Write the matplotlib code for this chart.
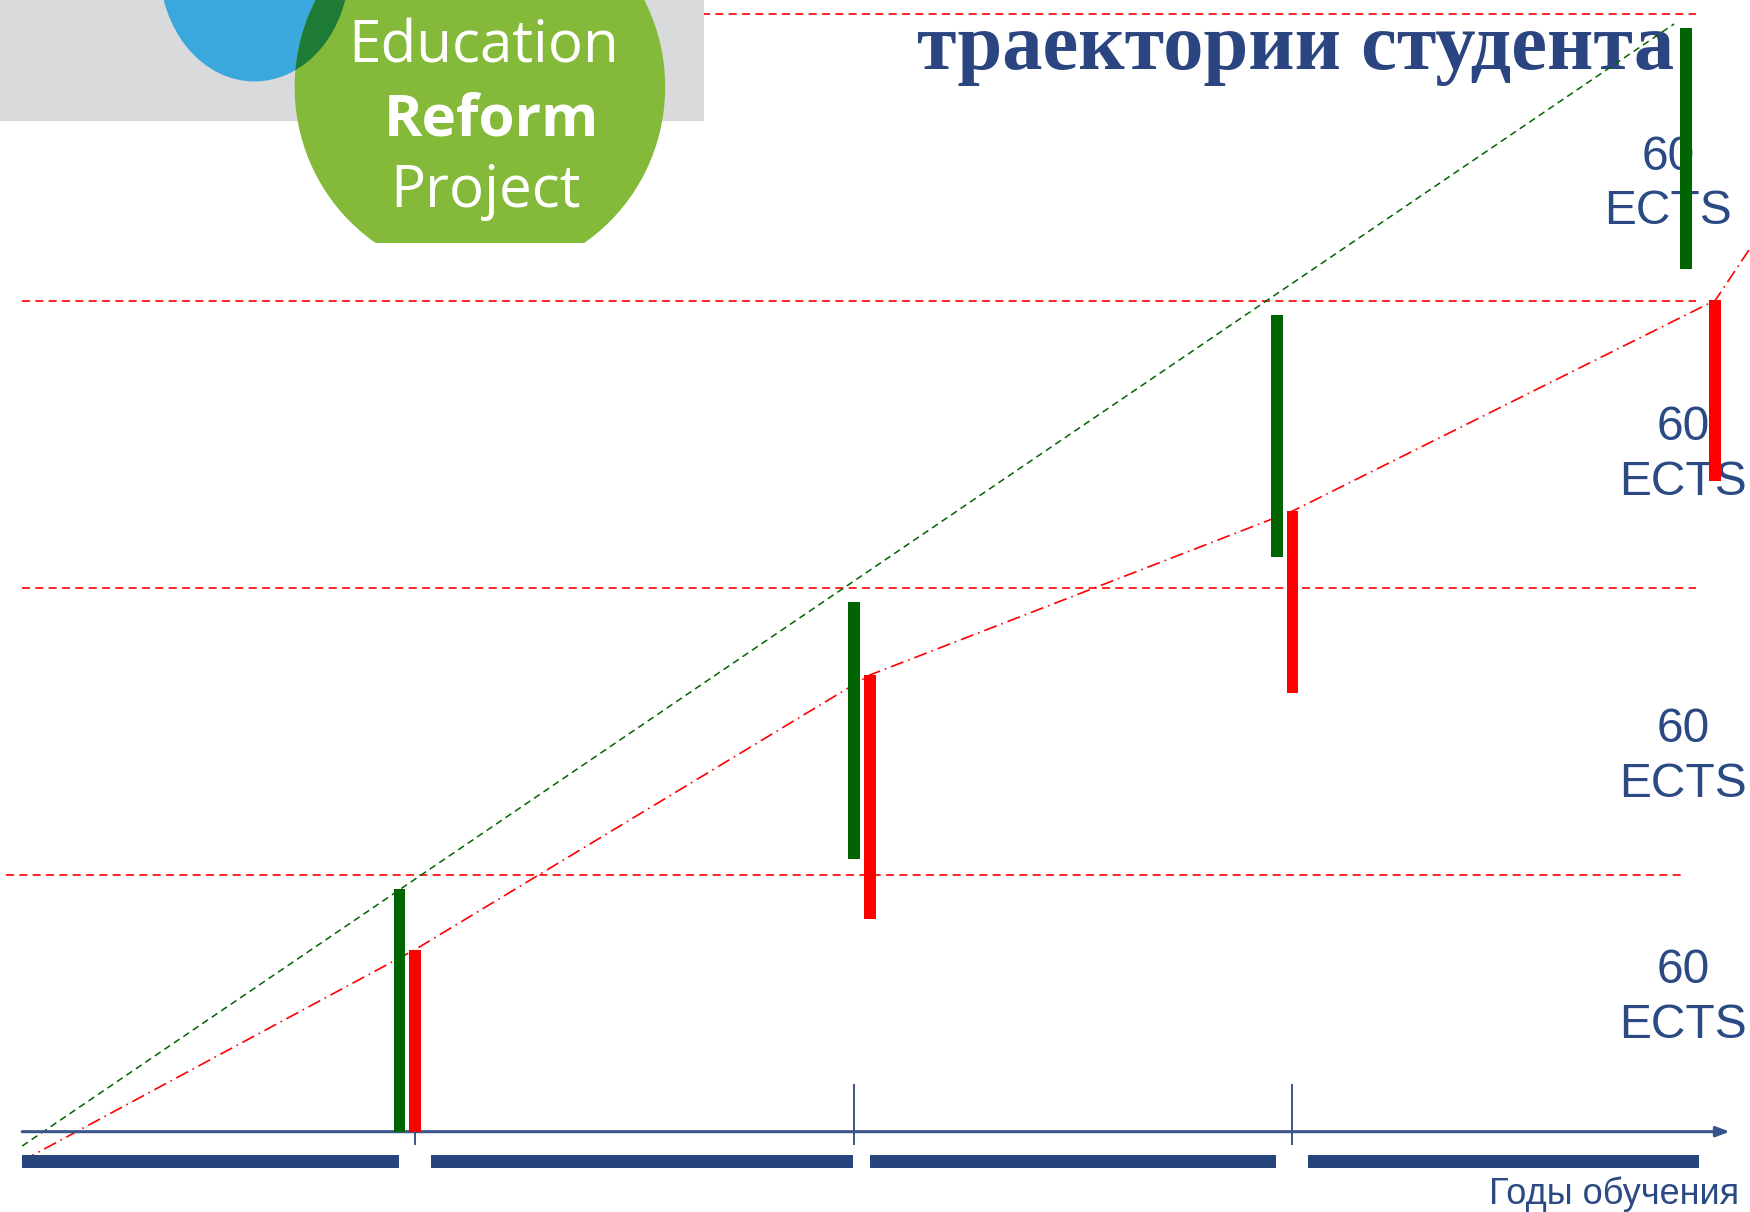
import matplotlib
matplotlib.use("Agg")
import matplotlib.pyplot as plt
from matplotlib.patches import Ellipse, Rectangle

# ---------------- data ----------------
levels = [60, 120, 180, 240]                       # ECTS thresholds per year
level_x0 = [0.066, 0.104, 0.104, 0.104]
level_x1 = [3.89, 3.921, 3.921, 3.921]

green_x = [0.964, 2.0, 2.964, 3.898]               # standard trajectory bars
green_bottom = [6.3, 63.3, 126.5, 186.8]
green_top = [57.0, 117.0, 177.2, 237.2]

red_x = [1.0, 2.036, 3.0, 3.964]                   # individual trajectory bars
red_bottom = [6.3, 50.7, 98.1, 142.4]
red_top = [44.4, 101.8, 136.1, 180.2]

green_line_x = [0.104, 3.87]
green_line_y = [3.3, 238.0]
red_line_x = [0.104, 1.0, 2.036, 3.0, 3.964, 4.05]
red_line_y = [0.2, 44.4, 101.8, 136.1, 180.2, 192.0]

period_start = [0.104, 1.036, 2.036, 3.036]        # study years (blue bars)
period_end = [0.964, 1.997, 2.962, 3.926]

tick_years = [1, 2, 3]
label_x = [3.857, 3.89, 3.89, 3.89]
label_y = [204.4, 147.8, 84.6, 34.3]
label_text = ["60\nECTS"] * 4

title = "траектории студента"
xlabel = "Годы обучения"

NAVY = "#26457C"
TXT = "#2B4A84"
GREEN = "#006400"
RED = "#FF0000"

fig = plt.figure(figsize=(17.5, 12.12), dpi=100)
ax = fig.add_axes([0, 0, 1, 1])
ax.set_xlim(0.0534, 4.043)
ax.set_ylim(-10.5, 243.0)
ax.axis("off")

# horizontal threshold lines
for lv, a, b in zip(levels, level_x0, level_x1):
    ax.plot([a, b], [lv, lv], color=RED, lw=1.2, dashes=(4.8, 3.2), zorder=2)

# trajectories
ax.plot(green_line_x, green_line_y, color=GREEN, lw=1.1, dashes=(4.5, 3), zorder=2)
ax.plot(red_line_x, red_line_y, color=RED, lw=1.2, dashes=(8, 3, 1, 3), zorder=2)

# bars
bw = 0.027
ax.bar(green_x, [t - b for t, b in zip(green_top, green_bottom)], bottom=green_bottom,
       width=bw, color=GREEN, zorder=3)
ax.bar(red_x, [t - b for t, b in zip(red_top, red_bottom)], bottom=red_bottom,
       width=bw, color=RED, zorder=3)

# time axis with arrow
axis_y = 6.3
ax.annotate("", xy=(3.997, axis_y), xytext=(0.104, axis_y),
            arrowprops=dict(arrowstyle="-|>,head_length=0.8,head_width=0.3",
                            color="#3A5589", lw=2.2, shrinkA=0, shrinkB=0), zorder=2)
for i, t in enumerate(tick_years):
    top = axis_y if i == 0 else 16.1
    ax.plot([t, t], [3.7, top], color="#3A5589", lw=1.4, zorder=2)

# study-year bars
for s, e in zip(period_start, period_end):
    ax.add_patch(Rectangle((s, -1.2), e - s, 2.6, color=NAVY, lw=0, zorder=2))

# ECTS labels
for x, y, t in zip(label_x, label_y, label_text):
    ax.text(x, y, t, ha="center", va="center", fontsize=34.5, color=TXT,
            family="Liberation Sans", linespacing=1.28, zorder=1)

ax.text(1558 / 1568, 1 - 1070 / 1086, xlabel, transform=ax.transAxes, ha="right",
        va="center", fontsize=26, color=TXT, family="Liberation Sans", zorder=1)

ax.text(1500 / 1568, 1 - 62 / 1086, title, transform=ax.transAxes, ha="right",
        va="baseline", fontsize=58, fontweight="bold", color="#2B4580",
        family="Liberation Serif", zorder=0.5)

# ---------------- logo (decoration) ----------------
lax = fig.add_axes([0, 0, 1, 1], zorder=5)
lax.set_xlim(0, 1568)
lax.set_ylim(1086, 0)
lax.axis("off")
lax.patch.set_alpha(0)
lax.add_patch(Rectangle((0, 0), 631, 108, color="#D9DADB", lw=0))
clip = Rectangle((0, -200), 1000, 418, transform=lax.transData)
blue = Ellipse((228, -30), 170, 206, color="#3AA8DC", lw=0)
lax.add_patch(blue)
green = Ellipse((430, 78), 332, 338, color="#84B93A", lw=0)
lax.add_patch(green)
green.set_clip_path(clip)
dark = Ellipse((228, -30), 170, 206, color="#1E7B35", lw=0)
lax.add_patch(dark)
dark.set_clip_path(green)
lax.text(433, 42, "Education", ha="center", va="center", color="white",
         fontsize=42, family="Open Sans")
lax.text(440, 108, "Reform", ha="center", va="center", color="white",
         fontsize=42, family="Open Sans", fontweight="bold")
lax.text(435, 172, "Project", ha="center", va="center", color="white",
         fontsize=42, family="Open Sans")

fig.savefig("out.png", dpi=100)
